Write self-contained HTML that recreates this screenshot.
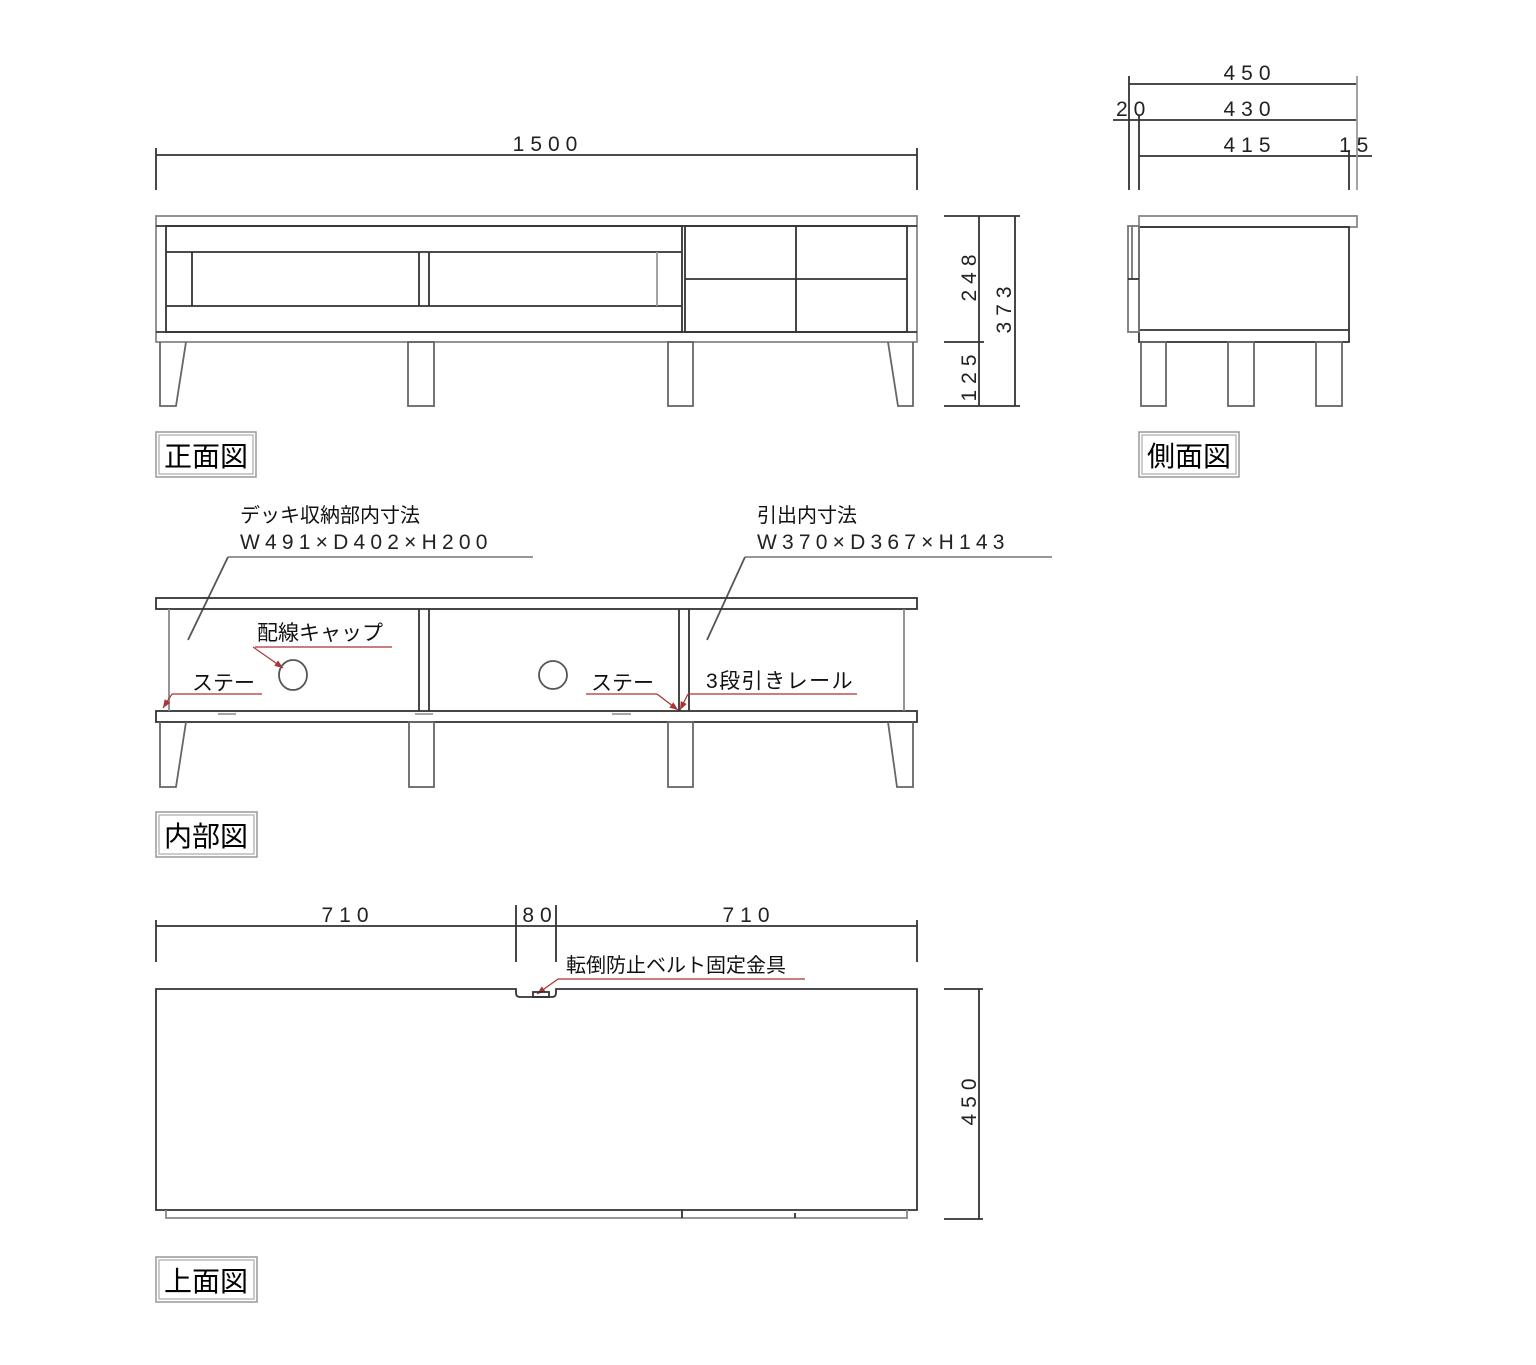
<!DOCTYPE html>
<html><head><meta charset="utf-8"><style>
html,body{margin:0;padding:0;background:#fff;}
svg{display:block;}
.d{font-family:"Liberation Sans",sans-serif;font-size:21px;letter-spacing:6px;fill:#222;}
.w{font-family:"Liberation Sans",sans-serif;font-size:21px;letter-spacing:5.2px;fill:#222;}
.j{font-family:"Liberation Sans","Noto Sans CJK JP",sans-serif;font-size:20px;fill:#111;}
.t{font-family:"Liberation Sans","Noto Sans CJK JP",sans-serif;font-size:28px;fill:#000;}
</style></head><body>
<svg width="1536" height="1365" viewBox="0 0 1536 1365" xmlns="http://www.w3.org/2000/svg">
<defs><marker id="a" viewBox="0 0 10 10" refX="10" refY="5" markerWidth="7" markerHeight="7" orient="auto"><path d="M0 1 L10 5 L0 9 Z" fill="#a33"/></marker></defs>
<g fill="none" stroke="#333" stroke-width="1.8">
<line x1="156" y1="155" x2="917" y2="155"/>
<line x1="156" y1="148" x2="156" y2="190"/><line x1="917" y1="148" x2="917" y2="190"/>
<rect x="156" y="216" width="761" height="126" stroke="#888"/>
<line x1="156" y1="226" x2="917" y2="226"/>
<line x1="156" y1="332" x2="917" y2="332"/>
<rect x="166" y="226" width="516" height="106"/>
<line x1="166" y1="252" x2="682" y2="252"/><line x1="166" y1="306" x2="682" y2="306"/>
<line x1="192" y1="252" x2="192" y2="306"/><line x1="419" y1="252" x2="419" y2="306"/>
<line x1="429" y1="252" x2="429" y2="306"/><line x1="657" y1="252" x2="657" y2="306" stroke="#999"/>
<rect x="685" y="226" width="222" height="106"/>
<line x1="796" y1="226" x2="796" y2="332"/><line x1="685" y1="279" x2="907" y2="279"/>
<polyline points="160,342 160,406 176,406 186,342" stroke="#666"/>
<rect x="408" y="342" width="26" height="64" stroke="#666"/>
<rect x="668" y="342" width="25" height="64" stroke="#666"/>
<polyline points="888,342 898,406 913,406 913,342" stroke="#666"/>
<line x1="944" y1="216" x2="1020" y2="216"/><line x1="944" y1="406" x2="1020" y2="406"/>
<line x1="944" y1="342" x2="984" y2="342"/>
<line x1="979" y1="216" x2="979" y2="406"/><line x1="1015" y1="216" x2="1015" y2="406"/>

<line x1="1129" y1="84" x2="1357" y2="84"/>
<line x1="1113" y1="120" x2="1357" y2="120"/>
<line x1="1139" y1="156" x2="1372" y2="156"/>
<line x1="1129" y1="76" x2="1129" y2="190"/>
<line x1="1139" y1="115" x2="1139" y2="190"/>
<line x1="1357" y1="76" x2="1357" y2="190" stroke="#999"/>
<line x1="1349" y1="150" x2="1349" y2="190"/>
<rect x="1139" y="216" width="218" height="11" stroke="#888"/>
<rect x="1139" y="227" width="210" height="115"/>
<line x1="1139" y1="330" x2="1349" y2="330"/>
<rect x="1128" y="226" width="11" height="106" stroke="#777"/>
<line x1="1132" y1="226" x2="1132" y2="279" stroke="#777"/>
<line x1="1128" y1="279" x2="1139" y2="279"/>
<rect x="1141" y="342" width="25" height="64" stroke="#666"/>
<rect x="1228" y="342" width="26" height="64" stroke="#666"/>
<rect x="1316" y="342" width="26" height="64" stroke="#666"/>

<line x1="228" y1="557" x2="533" y2="557" stroke="#888"/>
<line x1="228" y1="557" x2="188" y2="640" stroke="#555"/>
<line x1="745" y1="557" x2="1052" y2="557" stroke="#888"/>
<line x1="745" y1="557" x2="707" y2="640" stroke="#555"/>
<rect x="156" y="598" width="761" height="11"/>
<rect x="156" y="711" width="761" height="11"/>
<line x1="169" y1="609" x2="169" y2="711" stroke="#888"/>
<line x1="904" y1="609" x2="904" y2="711" stroke="#888"/>
<line x1="419" y1="609" x2="419" y2="711"/><line x1="429" y1="609" x2="429" y2="711"/>
<line x1="679" y1="609" x2="679" y2="711"/><line x1="689" y1="609" x2="689" y2="711"/>
<g stroke="#999"><line x1="218" y1="714" x2="236" y2="714"/><line x1="415" y1="714" x2="433" y2="714"/><line x1="612" y1="714" x2="631" y2="714"/></g>
<ellipse cx="293" cy="675" rx="14" ry="15" stroke="#555"/>
<ellipse cx="553" cy="675" rx="14" ry="14" stroke="#555"/>
<polyline points="160,722 160,787 176,787 186,722" stroke="#666"/>
<rect x="409" y="722" width="25" height="65" stroke="#666"/>
<rect x="668" y="722" width="25" height="65" stroke="#666"/>
<polyline points="888,722 897,787 913,787 913,722" stroke="#666"/>
<g stroke="#a33" stroke-width="1.2">
<line x1="255" y1="647" x2="392" y2="647"/><line x1="253" y1="647" x2="283" y2="668" marker-end="url(#a)"/>
<line x1="172" y1="694" x2="262" y2="694"/><line x1="172" y1="694" x2="163" y2="708" marker-end="url(#a)"/>
<line x1="586" y1="694" x2="657" y2="694"/><line x1="657" y1="694" x2="678" y2="710" marker-end="url(#a)"/>
<line x1="688" y1="694" x2="857" y2="694"/><line x1="688" y1="694" x2="680" y2="710" marker-end="url(#a)"/>
<line x1="558" y1="979" x2="805" y2="979"/><line x1="558" y1="979" x2="537" y2="994" marker-end="url(#a)"/>
</g>

<line x1="156" y1="926" x2="917" y2="926"/>
<line x1="156" y1="920" x2="156" y2="962"/><line x1="917" y1="920" x2="917" y2="962"/>
<line x1="516" y1="905" x2="516" y2="962"/><line x1="556" y1="905" x2="556" y2="962"/>
<path d="M516 989 H156 V1210 H917 V989 H556 V993 Q556 997 552 997 H520 Q516 997 516 993 Z"/>
<rect x="533" y="992" width="16" height="5"/>
<path d="M166 1210 V1218 H907 V1210" stroke="#888"/>
<line x1="682" y1="1210" x2="682" y2="1218"/><line x1="795" y1="1213" x2="795" y2="1218"/>
<line x1="944" y1="989" x2="983" y2="989"/><line x1="944" y1="1219" x2="983" y2="1219"/>
<line x1="979" y1="989" x2="979" y2="1219"/>

<g stroke="#999" stroke-width="1.5">
<rect x="156" y="432" width="100" height="45"/><rect x="159" y="435" width="94" height="39" stroke="#bbb"/>
<rect x="1139" y="432" width="100" height="45"/><rect x="1142" y="435" width="94" height="39" stroke="#bbb"/>
<rect x="156" y="812" width="101" height="45"/><rect x="159" y="815" width="95" height="39" stroke="#bbb"/>
<rect x="156" y="1257" width="101" height="45"/><rect x="159" y="1260" width="95" height="39" stroke="#bbb"/>
</g>
</g>

<text class="d" x="548" y="151" text-anchor="middle">1500</text>
<text class="d" x="1250" y="80" text-anchor="middle">450</text>
<text class="d" x="1116" y="116">20</text>
<text class="d" x="1250" y="116" text-anchor="middle">430</text>
<text class="d" x="1250" y="152" text-anchor="middle">415</text>
<text class="d" x="1339" y="152">15</text>
<text class="d" transform="translate(976,275) rotate(-90)" text-anchor="middle">248</text>
<text class="d" transform="translate(1011,307) rotate(-90)" text-anchor="middle">373</text>
<text class="d" transform="translate(976,375) rotate(-90)" text-anchor="middle">125</text>
<text class="d" x="348" y="922" text-anchor="middle">710</text>
<text class="d" x="540" y="922" text-anchor="middle">80</text>
<text class="d" x="749" y="922" text-anchor="middle">710</text>
<text class="d" transform="translate(976,1099) rotate(-90)" text-anchor="middle">450</text>

<text class="t" x="164" y="466">正面図</text>
<text class="t" x="1147" y="466">側面図</text>
<text class="t" x="164" y="846">内部図</text>
<text class="t" x="164" y="1291">上面図</text>

<text class="j" x="240" y="522">デッキ収納部内寸法</text>
<text class="w" x="240" y="549">W491×D402×H200</text>
<text class="j" x="757" y="522">引出内寸法</text>
<text class="w" x="757" y="549">W370×D367×H143</text>
<text class="j" x="257" y="640" style="font-size:21px">配線キャップ</text>
<text class="j" x="192" y="690" style="font-size:21px">ステー</text>
<text class="j" x="591" y="690" style="font-size:21px">ステー</text>
<text class="j" x="706" y="688" style="font-size:21px;letter-spacing:1.5px">3段引きレール</text>
<text class="j" x="566" y="972">転倒防止ベルト固定金具</text>
</svg>
</body></html>
